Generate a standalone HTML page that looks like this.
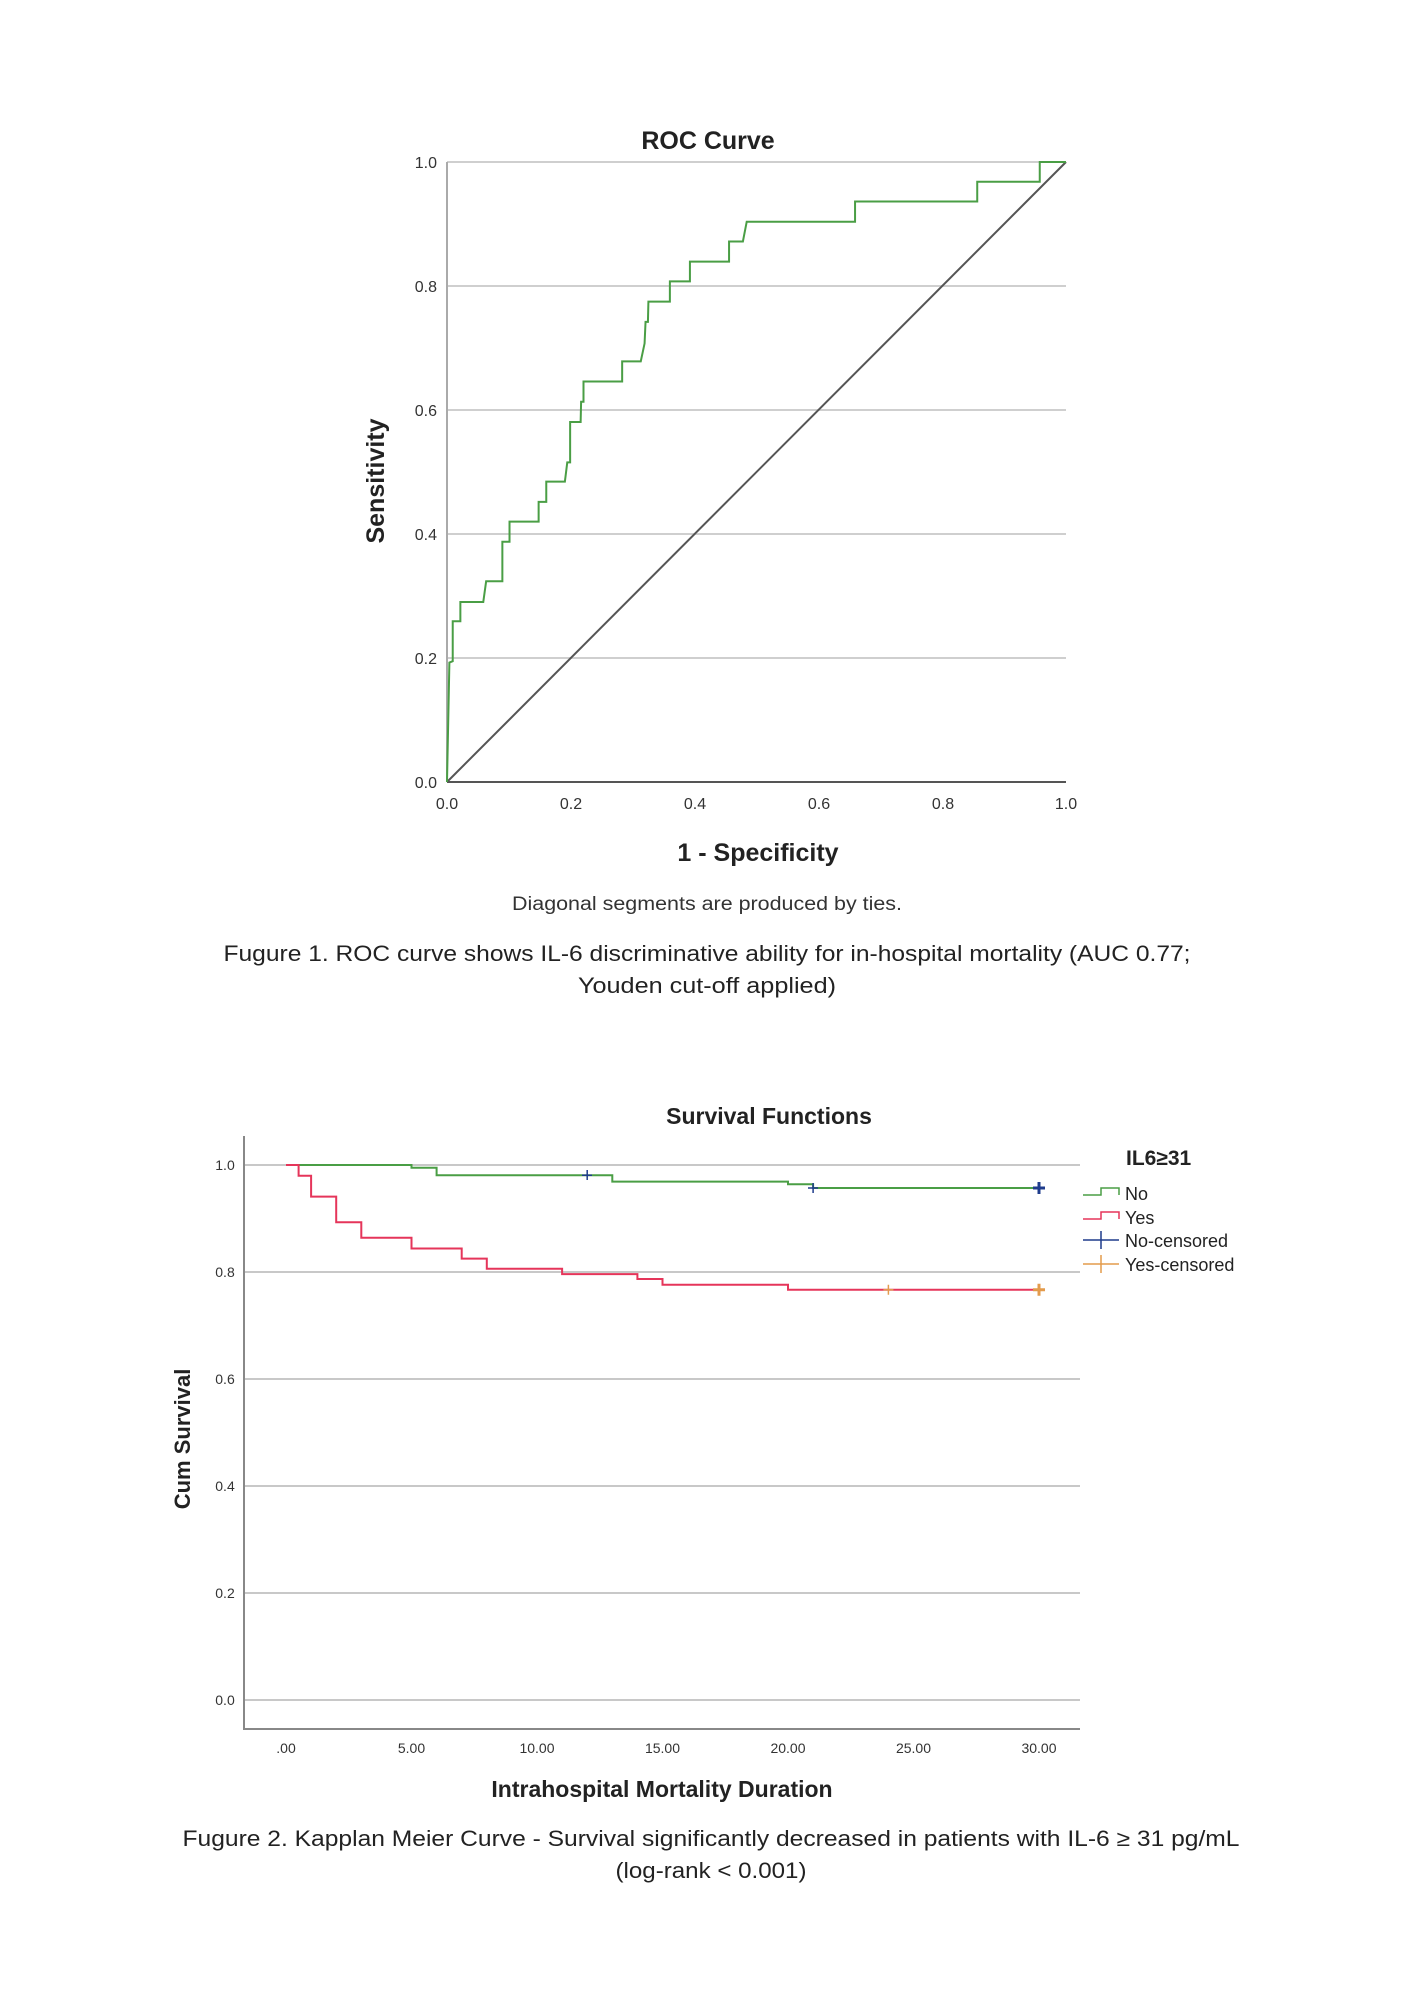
<!DOCTYPE html>
<html><head><meta charset="utf-8"><style>
html,body{margin:0;padding:0;background:#fff;}
svg{display:block;}
text{font-family:"Liberation Sans",sans-serif;}
</style></head><body>
<svg width="1414" height="2000" viewBox="0 0 1414 2000" xmlns="http://www.w3.org/2000/svg">
<rect width="1414" height="2000" fill="#fff"/>
<!-- ROC -->
<text x="708" y="149" font-size="25" font-weight="bold" text-anchor="middle" fill="#222">ROC Curve</text>
<g stroke="#cfcfcf" stroke-width="2">
<line x1="447" y1="162" x2="1066" y2="162"/>
<line x1="447" y1="286" x2="1066" y2="286"/>
<line x1="447" y1="410" x2="1066" y2="410"/>
<line x1="447" y1="534" x2="1066" y2="534"/>
<line x1="447" y1="658" x2="1066" y2="658"/>
</g>
<line x1="447" y1="162" x2="447" y2="782" stroke="#aaa" stroke-width="2"/>
<line x1="447" y1="782" x2="1066" y2="782" stroke="#555" stroke-width="2"/>
<line x1="447" y1="782" x2="1066" y2="162" stroke="#555" stroke-width="2"/>
<g font-size="16" fill="#333" text-anchor="end">
<text x="437" y="168">1.0</text><text x="437" y="292">0.8</text><text x="437" y="416">0.6</text>
<text x="437" y="540">0.4</text><text x="437" y="664">0.2</text><text x="437" y="788">0.0</text>
</g>
<g font-size="16" fill="#333" text-anchor="middle">
<text x="447" y="809">0.0</text><text x="571" y="809">0.2</text><text x="695" y="809">0.4</text>
<text x="819" y="809">0.6</text><text x="943" y="809">0.8</text><text x="1066" y="809">1.0</text>
</g>
<text transform="translate(384,481) rotate(-90)" font-size="25" font-weight="bold" text-anchor="middle" fill="#222">Sensitivity</text>
<text x="758" y="861" font-size="25" font-weight="bold" text-anchor="middle" fill="#222">1 - Specificity</text>
<text x="707" y="910" font-size="19" text-anchor="middle" fill="#333" textLength="390" lengthAdjust="spacingAndGlyphs">Diagonal segments are produced by ties.</text>
<svg x="447" y="162" width="619" height="620" viewBox="200 135 1297 1350" preserveAspectRatio="none" overflow="visible">
<path fill="none" stroke="#4a9e45" stroke-width="2" vector-effect="non-scaling-stroke" d="M200 1485 L205 1225 L212 1222 L212 1135 L228 1135 L228 1093 L276 1093 L282 1048 L316 1048 L316 962 L331 962 L331 918 L392 918 L392 875 L408 875 L408 831 L447 831 L452 789 L458 789 L458 701 L480 701 L481 657 L486 657 L486 613 L567 613 L567 569 L606 569 L614 530 L616 483 L621 483 L622 439 L667 439 L667 395 L709 395 L709 352 L791 352 L791 308 L820 308 L828 265 L1055 265 L1055 221 L1311 221 L1311 178 L1442 178 L1442 135 L1497 135"/>
</svg>
<text x="707" y="961" font-size="22" text-anchor="middle" fill="#222" textLength="967" lengthAdjust="spacingAndGlyphs">Fugure 1. ROC curve shows IL-6 discriminative ability for in-hospital mortality (AUC 0.77;</text>
<text x="707" y="993" font-size="22" text-anchor="middle" fill="#222" textLength="258" lengthAdjust="spacingAndGlyphs">Youden cut-off applied)</text>

<!-- KM -->
<text x="769" y="1124" font-size="23" font-weight="bold" text-anchor="middle" fill="#222">Survival Functions</text>
<g stroke="#c8c8c8" stroke-width="2">
<line x1="243" y1="1165" x2="1080" y2="1165"/>
<line x1="243" y1="1272" x2="1080" y2="1272"/>
<line x1="243" y1="1379" x2="1080" y2="1379"/>
<line x1="243" y1="1486" x2="1080" y2="1486"/>
<line x1="243" y1="1593" x2="1080" y2="1593"/>
<line x1="243" y1="1700" x2="1080" y2="1700"/>
</g>
<line x1="244" y1="1136" x2="244" y2="1729" stroke="#888" stroke-width="2"/>
<line x1="243" y1="1729" x2="1080" y2="1729" stroke="#888" stroke-width="2"/>
<g font-size="14" fill="#333" text-anchor="middle">
<text x="225" y="1170">1.0</text><text x="225" y="1277">0.8</text><text x="225" y="1384">0.6</text>
<text x="225" y="1491">0.4</text><text x="225" y="1598">0.2</text><text x="225" y="1705">0.0</text>
<text x="286" y="1753">.00</text><text x="411.5" y="1753">5.00</text><text x="537" y="1753">10.00</text>
<text x="662.5" y="1753">15.00</text><text x="788" y="1753">20.00</text><text x="913.5" y="1753">25.00</text><text x="1039" y="1753">30.00</text>
</g>
<text transform="translate(190,1439) rotate(-90)" font-size="22" font-weight="bold" text-anchor="middle" fill="#222">Cum Survival</text>
<text x="662" y="1797" font-size="23" font-weight="bold" text-anchor="middle" fill="#222">Intrahospital Mortality Duration</text>
<path fill="none" stroke="#4a9e45" stroke-width="2" d="M286 1165 H411.5 V1167.7 H436.6 V1175.2 H612.3 V1181.6 H788 V1184.3 H813.1 V1188 H1039"/>
<path fill="none" stroke="#e5355a" stroke-width="2" d="M286 1165 H298.6 V1175.7 H311.1 V1196.6 H336.2 V1222.3 H361.3 V1237.8 H411.5 V1248.5 H461.7 V1258.6 H486.8 V1268.8 H562.1 V1274.1 H637.4 V1279 H662.5 V1284.8 H788 V1289.7 H1039"/>
<g stroke="#1f3c8c" stroke-width="1.5">
<path d="M582 1175.2 H592 M587.2 1170 V1180"/>
<path d="M808 1188 H818 M813.1 1183 V1193"/>
<path d="M1033 1188 H1045 M1039 1182 V1194" stroke-width="3"/>
</g>
<g stroke="#e39b4c" stroke-width="1.5">
<path d="M883.4 1289.7 H893.4 M888.4 1284.7 V1294.7"/>
<path d="M1033 1289.7 H1045 M1039 1283.7 V1295.7" stroke-width="3"/>
</g>
<text x="1126" y="1165" font-size="21" font-weight="bold" fill="#222">IL6≥31</text>
<path d="M1083 1195 H1101 V1188 H1119 V1195" fill="none" stroke="#4a9e45" stroke-width="1.5"/>
<path d="M1083 1219 H1101 V1212 H1119 V1219" fill="none" stroke="#e5355a" stroke-width="1.5"/>
<path d="M1083 1240 H1119 M1101 1231 V1249" fill="none" stroke="#1f3c8c" stroke-width="1.5"/>
<path d="M1083 1264 H1119 M1101 1255 V1273" fill="none" stroke="#e39b4c" stroke-width="1.5"/>
<g font-size="18" fill="#222">
<text x="1125" y="1200">No</text><text x="1125" y="1224">Yes</text>
<text x="1125" y="1247">No-censored</text><text x="1125" y="1271">Yes-censored</text>
</g>
<text x="711" y="1846" font-size="22" text-anchor="middle" fill="#222" textLength="1057" lengthAdjust="spacingAndGlyphs">Fugure 2. Kapplan Meier Curve - Survival significantly decreased in patients with IL-6 ≥ 31 pg/mL</text>
<text x="711" y="1878" font-size="22" text-anchor="middle" fill="#222" textLength="191" lengthAdjust="spacingAndGlyphs">(log-rank &lt; 0.001)</text>
</svg>
</body></html>
